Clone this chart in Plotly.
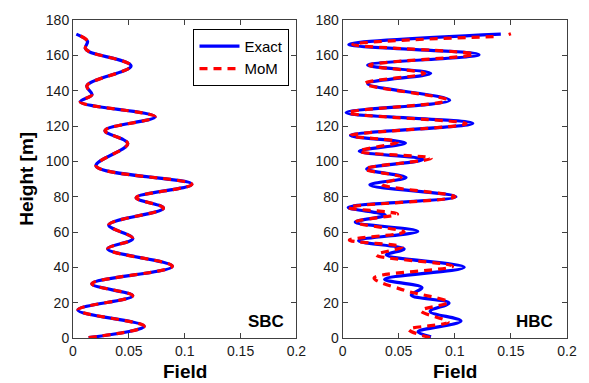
import plotly.graph_objects as go

# ---- data ----
sbc_height = [0.2, 6.7, 15.9, 23.9, 30.7, 40.6, 50.4, 56.3, 64.0, 73.5, 79.4, 87.0,
              97.4, 110.0, 117.4, 125.2, 133.7, 137.8, 142.8, 154.0, 162.0, 164.0, 168.0, 172.0]
sbc_exact = [0.014, 0.0638, 0.0044, 0.0535, 0.0168, 0.089, 0.031, 0.0535, 0.032, 0.081, 0.0565, 0.1065,
             0.0206, 0.049, 0.0286, 0.0735, 0.0065, 0.017, 0.0124, 0.052, 0.0147, 0.011, 0.013, 0.003]
sbc_mom = list(sbc_exact)

hbc_height = [0.7, 3.5, 9.6, 15.0, 19.8, 24.3, 28.5, 33.2, 40.0, 47.0, 50.4, 55.0, 60.4, 65.6,
              69.6, 73.9, 80.0, 86.7, 90.8, 95.7, 101.1, 105.7, 110.4, 114.6, 121.5, 127.6,
              134.6, 143.9, 149.8, 154.4, 160.4, 166.1, 172.0]
hbc_exact = [0.0788, 0.0672, 0.1055, 0.078, 0.0948, 0.0612, 0.0707, 0.0374, 0.1084, 0.0389, 0.0548,
             0.0142, 0.067, 0.0113, 0.038, 0.005, 0.101, 0.0243, 0.0565, 0.0214, 0.0716, 0.0148,
             0.056, 0.007, 0.116, 0.0032, 0.0954, 0.0223, 0.0785, 0.0223, 0.1215, 0.0055, 0.141]

hbc_mom_height = [0.2, 4.8, 9.0, 15.4, 20.2, 27.0, 34.0, 40.6, 47.0, 51.5, 55.4, 60.0, 65.6, 70.2,
                  73.9, 80.0, 87.0, 91.0, 95.6, 101.7, 105.7, 111.0, 114.6, 121.3, 127.6, 134.6,
                  144.0, 149.8, 154.4, 160.6, 166.1, 170.7, None, 171.8, 172.2]
hbc_mom = [0.078, 0.059, 0.094, 0.0698, 0.094, 0.055, 0.028, 0.098, 0.030, 0.053, 0.006, 0.0548,
           0.0113, 0.049, 0.005, 0.100, 0.035, 0.052, 0.020, 0.079, 0.015, 0.049, 0.007, 0.110,
           0.005, 0.093, 0.020, 0.073, 0.024, 0.117, 0.009, 0.139, None, 0.148, 0.150]

x_ticks = [0, 0.05, 0.1, 0.15, 0.2]
x_ticklabels = ["0", "0.05", "0.1", "0.15", "0.2"]
y_ticks = list(range(0, 181, 20))

BLUE = "#0000FF"
RED = "#FF0000"
FONT = "Liberation Sans, Arial, sans-serif"

fig = go.Figure()
fig.add_trace(go.Scatter(x=sbc_exact, y=sbc_height, mode="lines", name="Exact",
                         line=dict(color=BLUE, width=3.2, shape="spline"), xaxis="x", yaxis="y"))
fig.add_trace(go.Scatter(x=sbc_mom, y=sbc_height, mode="lines", name="MoM",
                         line=dict(color=RED, width=3.2, dash="8px,6px", shape="spline"), xaxis="x", yaxis="y"))
fig.add_trace(go.Scatter(x=hbc_exact, y=hbc_height, mode="lines", name="Exact", showlegend=False,
                         line=dict(color=BLUE, width=3.2, shape="spline"), xaxis="x2", yaxis="y2"))
fig.add_trace(go.Scatter(x=hbc_mom, y=hbc_mom_height, mode="lines", name="MoM", showlegend=False,
                         line=dict(color=RED, width=3.2, dash="8px,6px", shape="spline"), xaxis="x2", yaxis="y2"))

axis_common = dict(showgrid=False, zeroline=False, showline=True, linecolor="#404040", linewidth=1,
                   mirror="ticks", ticks="inside", ticklen=5, tickcolor="#404040",
                   tickfont=dict(family=FONT, size=14, color="#1a1a1a"))

left_dom = [0.0, (300 - 73) / 502]
right_dom = [(347 - 73) / 502, 1.0]

fig.update_layout(
    width=589, height=383,
    margin=dict(l=73, r=14, t=14, b=45),
    paper_bgcolor="white", plot_bgcolor="white",
    font=dict(family=FONT, color="#1a1a1a"),
    xaxis=dict(domain=left_dom, range=[0, 0.2], tickvals=x_ticks, ticktext=x_ticklabels, anchor="y", **axis_common),
    yaxis=dict(domain=[0, 1], range=[0, 180], tickvals=y_ticks, anchor="x", **axis_common),
    xaxis2=dict(domain=right_dom, range=[0, 0.2], tickvals=x_ticks, ticktext=x_ticklabels, anchor="y2", **axis_common),
    yaxis2=dict(domain=[0, 1], range=[0, 180], tickvals=y_ticks, anchor="x2", **axis_common),
    showlegend=True,
    legend=dict(x=(293 - 73) / 502, y=(338 - 23) / 324, xanchor="right", yanchor="top",
                bgcolor="white", bordercolor="#000000", borderwidth=1,
                font=dict(family=FONT, size=15, color="#000000"),
                tracegroupgap=0, itemwidth=40),
    annotations=[
        dict(text="<b>Field</b>", x=(186.5 - 73) / 502, y=(338 - 372) / 324, xref="paper", yref="paper",
             showarrow=False, xanchor="center", yanchor="middle", font=dict(size=19, family=FONT, color="#000")),
        dict(text="<b>Field</b>", x=(461 - 73) / 502, y=(338 - 372) / 324, xref="paper", yref="paper",
             showarrow=False, xanchor="center", yanchor="middle", font=dict(size=19, family=FONT, color="#000")),
        dict(text="<b>Height [m]</b>", x=(25 - 73) / 502, y=0.5, xref="paper", yref="paper", textangle=-90,
             showarrow=False, xanchor="center", yanchor="middle", font=dict(size=19, family=FONT, color="#000")),
        dict(text="<b>SBC</b>", x=0.1727, y=9.4, xref="x", yref="y", showarrow=False,
             xanchor="center", yanchor="middle", font=dict(size=17, family=FONT, color="#000")),
        dict(text="<b>HBC</b>", x=0.171, y=9.4, xref="x2", yref="y2", showarrow=False,
             xanchor="center", yanchor="middle", font=dict(size=17, family=FONT, color="#000")),
    ],
)

fig.write_html("out.html", config={"displayModeBar": False},
               post_script="document.body.style.margin='0px';document.body.style.padding='0px';")
